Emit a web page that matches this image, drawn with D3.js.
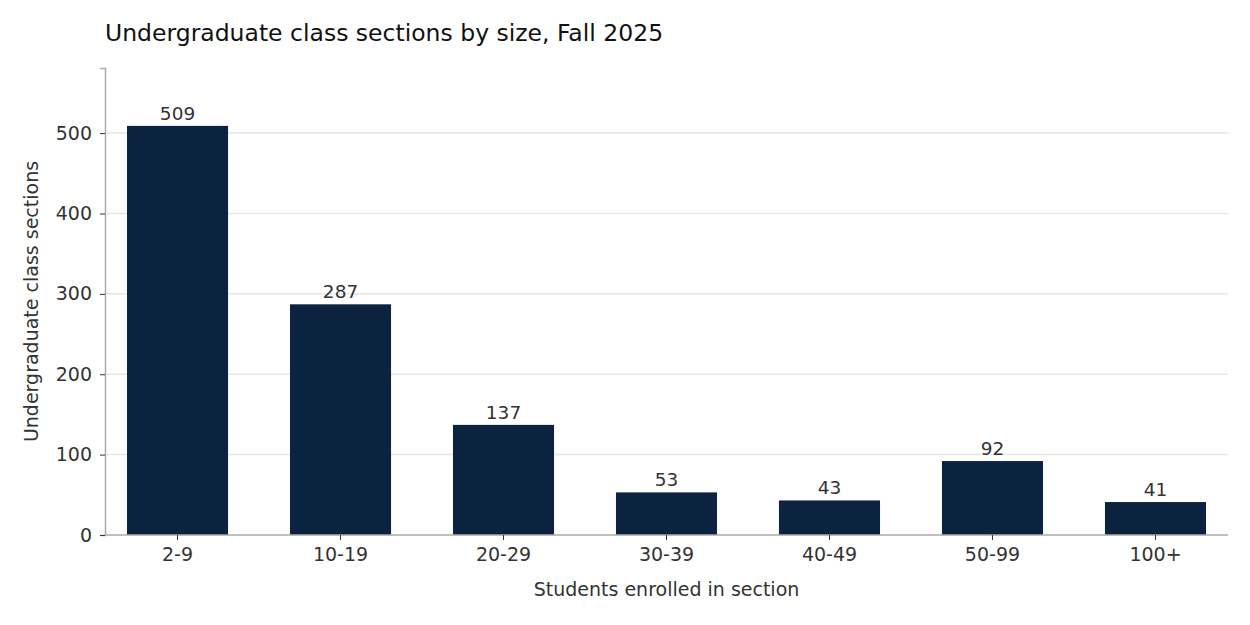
<html>
<script src="https://d3js.org/d3.v7.min.js"></script>
<body style="margin:0">
<svg></svg>
<script>
var categories = ['2-9', '10-19', '20-29', '30-39', '40-49', '50-99', '100+']
var sections = [509, 287, 137, 53, 43, 92, 41]
var ticks = [0, 100, 200, 300, 400, 500]

var width = 1250, height = 625
var m = {top: 68, right: 22, bottom: 90, left: 105}

var svg = d3.select('svg').attr('width', width).attr('height', height)
  .style('font-family', 'DejaVu Sans')

var x = d3.scaleBand().domain(categories).range([127, 1206]).paddingInner(0.38).paddingOuter(0)
var y = d3.scaleLinear().domain([0, 581]).range([height - m.bottom, m.top])

// gridlines
svg.append('g').selectAll('line').data(ticks.slice(1)).enter().append('line')
  .attr('x1', m.left).attr('x2', width - m.right)
  .attr('y1', d => y(d)).attr('y2', d => y(d))
  .attr('stroke', '#e6e6e6').attr('stroke-width', 1.5)

svg.selectAll('.bar').data(categories).enter().append('rect')
  .attr('x', d => x(d)).attr('width', x.bandwidth())
  .attr('y', (d, i) => y(sections[i]))
  .attr('height', (d, i) => y(0) - y(sections[i]))
  .attr('fill', '#0c2340')

svg.selectAll('.lbl').data(categories).enter().append('text')
  .attr('x', d => x(d) + x.bandwidth() / 2)
  .attr('y', (d, i) => y(sections[i]) - 6)
  .attr('text-anchor', 'middle').attr('font-size', 18.5).attr('fill', '#333')
  .text((d, i) => sections[i])

var xa = svg.append('g').attr('transform', 'translate(0,' + y(0) + ')')
  .call(d3.axisBottom(x).tickSizeOuter(0).tickSize(5).tickPadding(8))
var ya = svg.append('g').attr('transform', 'translate(' + m.left + ',0)')
  .call(d3.axisLeft(y).tickValues(ticks).tickSizeOuter(0).tickSize(5).tickPadding(8))
;[xa, ya].forEach(a => {
  a.selectAll('text').attr('font-size', 19).attr('fill', '#333').style('font-family', 'DejaVu Sans')
  a.selectAll('line').attr('stroke', '#333')
  a.select('.domain').attr('stroke', '#aaa').attr('stroke-width', 1.5)
})
xa.select('.domain').attr('d', 'M' + m.left + ',0H' + (width - m.right))

svg.append('text').attr('x', (m.left + width - m.right) / 2).attr('y', 596)
  .attr('text-anchor', 'middle').attr('font-size', 19).attr('fill', '#333')
  .text('Students enrolled in section')
svg.append('text').attr('transform', 'translate(38,' + ((m.top + height - m.bottom) / 2) + ') rotate(-90)')
  .attr('text-anchor', 'middle').attr('font-size', 19).attr('fill', '#333')
  .text('Undergraduate class sections')
svg.append('text').attr('x', m.left).attr('y', 41).attr('font-size', 23.5).attr('fill', '#111')
  .text('Undergraduate class sections by size, Fall 2025')
</script>
</body>
</html>
